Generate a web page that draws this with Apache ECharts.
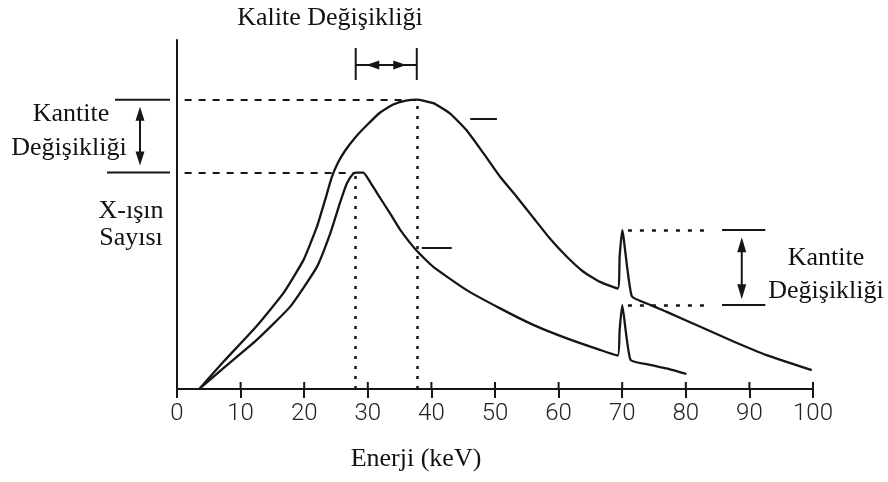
<!DOCTYPE html>
<html>
<head>
<meta charset="utf-8">
<script src="https://cdn.jsdelivr.net/npm/echarts@6/dist/echarts.min.js"></script>
<style>
  html, body { margin: 0; background: #fff; }
  #chart { width: 888px; height: 482px; }
</style>
</head>
<body>
<div id="chart"></div>
<script>
// x ticks (keV)
const xTicks = [0, 10, 20, 30, 40, 50, 60, 70, 80, 90, 100];

// 100 kVp spectrum (outer curve)
const energyA = [3.5, 7.3, 12.5, 16.7, 19.9, 22.0, 23.5, 24.3, 25.3, 26.4, 28.0, 29.8, 32.0, 34.0, 36.0, 37.7,
  40.3, 42.9, 45.5, 48.2, 50.8, 53.4, 56.1, 58.6, 61.3, 63.9, 66.5, 69.3, 69.6, 70.0, 71.5,
  74.4, 77.0, 82.2, 87.5, 92.7, 99.8];
const countA = [0, 7.8, 18.0, 27.4, 37.0, 46.5, 55.5, 60.5, 64.8, 68.2, 72.0, 75.5, 79.3, 81.5, 82.6, 82.9,
  81.9, 79.0, 74.2, 67.5, 60.8, 55.1, 48.9, 43.2, 37.9, 33.6, 30.7, 28.8, 38.0, 45.5, 26.6,
  24.1, 22.1, 17.9, 13.6, 9.7, 5.4];

// 80 kVp spectrum (inner curve)
const energyB = [3.5, 7.3, 12.5, 17.8, 22.0, 24.1, 25.6, 26.7, 27.6, 28.1, 29.3, 30.3, 31.5, 33.5, 35.1, 37.7,
  40.3, 45.5, 50.8, 56.1, 61.3, 66.5, 69.3, 69.6, 70.0, 71.3, 74.4, 77.0, 80.1];
const countB = [0, 6.0, 14.0, 23.6, 35.0, 44.6, 53.2, 58.9, 61.5, 62.0, 62.0, 59.5, 56.0, 50.3, 45.6, 39.6,
  35.0, 28.4, 23.1, 18.3, 14.5, 11.2, 9.6, 17.0, 24.0, 8.4, 6.9, 5.9, 4.3];

// annotation guides (data units)
const peakA = [37.7, 82.9];
const peakB = [28.1, 62.0];
const guideStart = 1.2;
const lineLevels = [45.5, 24.0];          // K-line peak heights
const lineGuideE = [70.9, 83.5];          // dotted part
const lineTickE = [85.7, 92.5];           // solid part
const lineArrowE = 88.8;
const dashA = [[46.1, 77.4], [50.3, 77.4]];
const dashB = [[38.5, 40.4], [43.2, 40.4]];

const ink = '#161616';
const chart = echarts.init(document.getElementById('chart'), null, { renderer: 'canvas' });

const dashed = { color: ink, width: 2, type: [7, 7] };
const dotted = { color: ink, width: 2.5, type: [3, 7] };
const solid = { color: ink, width: 2, type: 'solid' };

chart.setOption({
  animation: false,
  backgroundColor: '#fff',
  grid: { left: 177, right: 75, top: 40, bottom: 93, containLabel: false, outerBoundsMode: 'none' },
  xAxis: {
    type: 'value', min: xTicks[0], max: xTicks[xTicks.length - 1], interval: xTicks[1] - xTicks[0],
    axisLine: { show: true, onZero: false, lineStyle: { color: ink, width: 2 } },
    axisTick: { show: true, length: 9, lineStyle: { color: ink, width: 2 } },
    axisLabel: { color: '#222', fontSize: 24, fontFamily: 'Roboto, "Liberation Sans", sans-serif', fontWeight: 300, margin: 13 },
    splitLine: { show: false }
  },
  yAxis: {
    type: 'value', min: 0, max: 100,
    axisLine: { show: true, onZero: false, lineStyle: { color: ink, width: 2 } },
    axisTick: { show: false },
    axisLabel: { show: false },
    splitLine: { show: false }
  },
  series: [{
    type: 'line',
    data: energyA.map((e, i) => [e, countA[i]]),
    showSymbol: false,
    smooth: 0.15,
    lineStyle: { color: ink, width: 2.3 },
    markLine: {
      silent: true,
      symbol: ['none', 'none'],
      label: { show: false },
      data: [
        [{ coord: [guideStart, peakA[1]], lineStyle: dashed }, { coord: peakA }],
        [{ coord: [guideStart, peakB[1]], lineStyle: dashed }, { coord: peakB }],
        [{ coord: [peakA[0], 0], lineStyle: dotted }, { coord: peakA }],
        [{ coord: [peakB[0], 0], lineStyle: dotted }, { coord: peakB }],
        [{ coord: [lineGuideE[0], lineLevels[0]], lineStyle: { color: ink, width: 2.5, type: [4, 8] } }, { coord: [lineGuideE[1], lineLevels[0]] }],
        [{ coord: [lineGuideE[0], lineLevels[1]], lineStyle: { color: ink, width: 2.5, type: [4, 8] } }, { coord: [lineGuideE[1], lineLevels[1]] }],
        [{ coord: [lineTickE[0], lineLevels[0]], lineStyle: solid }, { coord: [lineTickE[1], lineLevels[0]] }],
        [{ coord: [lineTickE[0], lineLevels[1]], lineStyle: solid }, { coord: [lineTickE[1], lineLevels[1]] }],
        [{ coord: dashA[0], lineStyle: solid }, { coord: dashA[1] }],
        [{ coord: dashB[0], lineStyle: solid }, { coord: dashB[1] }]
      ]
    }
  }, {
    type: 'line',
    data: energyB.map((e, i) => [e, countB[i]]),
    showSymbol: false,
    smooth: 0.15,
    lineStyle: { color: ink, width: 2.3 }
  }]
});

// --- annotations (arrows, brackets, labels) ---
const px = (e, v) => chart.convertToPixel({ seriesIndex: 0 }, [e, v]);

function seg(x1, y1, x2, y2, w) {
  return { type: 'line', silent: true, shape: { x1, y1, x2, y2 }, style: { stroke: ink, lineWidth: w || 2 } };
}
function head(tx, ty, dx, dy, len, half) {
  const bx = tx - dx * len, by = ty - dy * len;
  return {
    type: 'polygon', silent: true,
    shape: { points: [[tx, ty], [bx - dy * half, by + dx * half], [bx + dy * half, by - dx * half]] },
    style: { fill: ink }
  };
}
function label(str, x, y) {
  return {
    type: 'text', silent: true, x, y,
    style: { text: str, fill: '#111', font: '26px "Liberation Serif", "Times New Roman", serif', align: 'center', verticalAlign: 'middle' }
  };
}

const yA = px(0, peakA[1])[1], yB = px(0, peakB[1])[1];
const xA = px(peakA[0], 0)[0], xB = px(peakB[0], 0)[0];
const yL1 = px(0, lineLevels[0])[1], yL2 = px(0, lineLevels[1])[1];
const xR = px(lineArrowE, 0)[0];
const yAxisBase = px(0, 0)[1];
const cx = (xA + xB) / 2;

const g = [
  // upper half of the x ticks (ticks cross the axis line)
  ...xTicks.slice(1).map(t => seg(px(t, 0)[0], yAxisBase, px(t, 0)[0], yAxisBase - 7)),
  // left quantity change
  seg(115, yA, 170, yA), seg(107, yB, 170, yB),
  seg(140, yA + 16, 140, yB - 16),
  head(140, yA + 7, 0, -1, 14, 4.5), head(140, yB - 7, 0, 1, 14, 4.5),
  // top quality change bracket
  seg(xB, 48, xB, 80), seg(xA, 48, xA, 80), seg(xB, 65, xA, 65),
  head(cx - 20, 65, -1, 0, 13, 4.5), head(cx + 20, 65, 1, 0, 13, 4.5),
  // right quantity change arrow
  seg(xR, yL1 + 16, xR, yL2 - 16),
  head(xR, yL1 + 7, 0, -1, 15, 4.5), head(xR, yL2 - 6, 0, 1, 15, 4.5),
  // texts
  label('Kalite Değişikliği', 330, 18),
  label('Kantite', 71, 114),
  label('Değişikliği', 69, 148),
  label('X-ışın', 131, 211),
  label('Sayısı', 131, 238),
  label('Kantite', 826, 258),
  label('Değişikliği', 826, 291),
  label('Enerji (keV)', 416, 459)
];

chart.setOption({ graphic: g });
</script>
</body>
</html>
